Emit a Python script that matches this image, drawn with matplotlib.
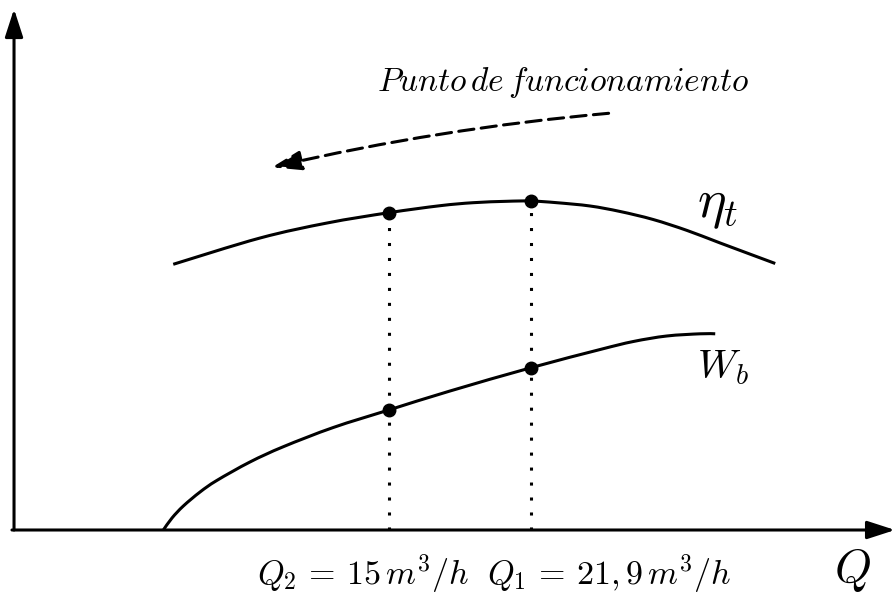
import matplotlib
matplotlib.use("Agg")
import matplotlib.pyplot as plt
import numpy as np
from matplotlib.path import Path
from matplotlib.patches import FancyArrowPatch, PathPatch

plt.rcParams["mathtext.fontset"] = "cm"

# Caudal de los dos puntos de funcionamiento (m3/h)
Q2 = 15.0
Q1 = 21.9

# Curva de rendimiento total eta_t (unidades arbitrarias)
eta_q = [4.55, 8.76, 12.01, 15.0, 17.49, 19.09, 20.72, 21.9, 23.15,
         24.76, 26.22, 27.82, 29.47, 31.07, 33.74]
eta_v = [265.7, 292, 307, 317.3, 324.3, 327.3, 328.7, 329, 327.3,
         324, 318.5, 310.5, 299.5, 287, 266.5]

# Curva de potencia de la bomba W_b (unidades arbitrarias)
wb_q = [4.07, 4.49, 5.04, 5.85, 6.66, 8.27, 9.89, 12.31, 15.0,
        17.97, 21.9, 25.25, 26.86, 28.48, 30.10, 30.83]
wb_v = [0, 12, 24, 38, 49.5, 68, 83.3, 102.5, 120,
        139, 162.3, 180.5, 188.5, 194, 196.2, 196.2]

# Valores en los puntos marcados
eta_pts = [317.3, 329]
wb_pts = [120, 162.3]

# Limites de los ejes
q_min, q_max = -3.85, 39.45
v_min, v_max = -69, 530
q_axis = -3.17

lw = 2.2


def smooth_curve(ax, xs, ys, **kw):
    # Curva suave que pasa por todos los puntos (Catmull-Rom como Bezier cubica)
    pts = ax.transData.transform(np.column_stack([xs, ys]))
    p = np.vstack([pts[0], pts, pts[-1]])
    verts = [pts[0]]
    codes = [Path.MOVETO]
    for i in range(1, len(p) - 2):
        c1 = p[i] + (p[i + 1] - p[i - 1]) / 6
        c2 = p[i + 1] - (p[i + 2] - p[i]) / 6
        verts += [c1, c2, p[i + 1]]
        codes += [Path.CURVE4] * 3
    verts = ax.transData.inverted().transform(np.array(verts))
    ax.add_patch(PathPatch(Path(verts, codes), fill=False, **kw))


fig = plt.figure(figsize=(8.93, 5.99), dpi=100)
ax = fig.add_axes([0, 0, 1, 1])
ax.set_xlim(q_min, q_max)
ax.set_ylim(v_min, v_max)
ax.axis("off")

# Ejes con flecha
axis_arrow = dict(arrowstyle="-|>,head_length=1.7,head_width=0.55",
                  mutation_scale=10, lw=lw, color="k",
                  shrinkA=0, shrinkB=0)
ax.annotate("", xy=(q_axis, 521), xytext=(q_axis, 0), arrowprops=axis_arrow,
            annotation_clip=False)
ax.annotate("", xy=(39.55, 0), xytext=(q_axis - 0.1, 0), arrowprops=axis_arrow,
            annotation_clip=False)

# Curvas
smooth_curve(ax, eta_q, eta_v, color="k", lw=lw, capstyle="butt")
smooth_curve(ax, wb_q, wb_v, color="k", lw=lw, capstyle="butt")

# Lineas verticales punteadas y puntos
for q, e in zip([Q2, Q1], eta_pts):
    ax.plot([q, q], [0, e], color="k", lw=lw, linestyle=(0, (1, 3.9)),
            dash_capstyle="butt")
ax.plot([Q2, Q1], eta_pts, "o", color="k", ms=9)
ax.plot([Q2, Q1], wb_pts, "o", color="k", ms=9)

# Flecha discontinua del desplazamiento del punto de funcionamiento
arrow = FancyArrowPatch((25.66, 416.7), (9.34, 362.7),
                        connectionstyle="arc3,rad=0.035",
                        arrowstyle="-|>,head_length=1.8,head_width=0.6",
                        mutation_scale=10, lw=lw, color="k",
                        linestyle=(0, (5, 2.4)), shrinkA=0, shrinkB=0)
ax.add_patch(arrow)

# Textos
ax.text(14.44, 448, r"$Punto\,de\,funcionamiento$", fontsize=24,
        ha="left", va="center")
ax.text(29.95, 325, r"$\eta_t$", fontsize=39, ha="left", va="center")
ax.text(29.95, 163, r"$W_b$", fontsize=29, ha="left", va="center")
ax.text(8.62, -44, r"$Q_2\,=\,15\,m^3/h$", fontsize=24.5, ha="left", va="center")
ax.text(19.77, -44, r"$Q_1\,=\,21,9\,m^3/h$", fontsize=24.5, ha="left", va="center")
ax.text(37.5, -40, r"$Q$", fontsize=34, ha="center", va="center")

fig.savefig("out.png", dpi=100)
